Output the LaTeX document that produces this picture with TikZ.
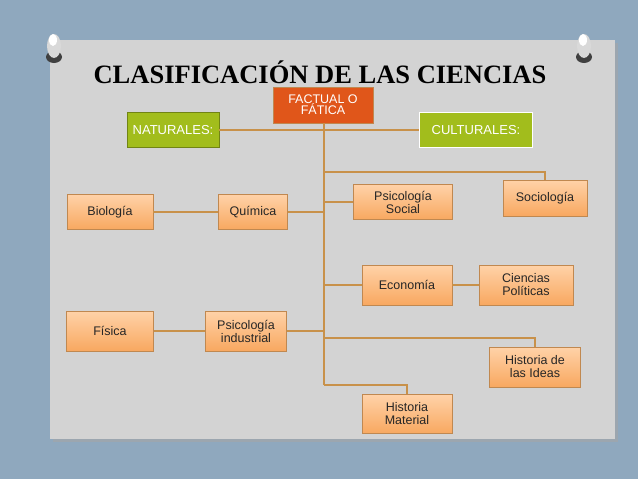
\documentclass[tikz,border=0pt]{standalone}
\usepackage{fontspec}
\setmainfont{Liberation Sans}
\newfontfamily\titlefont{Liberation Serif}
\begin{document}
\begin{tikzpicture}[x=1pt,y=-1pt,
  box/.style={draw=boxline,line width=0.8pt,top color=boxtop,bottom color=boxbot,font=\fontsize{12.5}{13}\selectfont,align=center,inner sep=0pt,text=black!85},
  green/.style={fill=grn,font=\fontsize{13}{14}\selectfont,text=white,inner sep=0pt},
  link/.style={draw=lnk,line width=1.2pt}]
\definecolor{bg}{HTML}{8FA8BE}
\definecolor{panel}{HTML}{D3D3D3}
\definecolor{boxline}{HTML}{C08850}
\definecolor{boxtop}{HTML}{FFD2A8}
\definecolor{boxbot}{HTML}{F8A860}
\definecolor{grn}{HTML}{A2BD1C}
\definecolor{lnk}{HTML}{C8914A}
\definecolor{fact}{HTML}{E0561A}
\fill[bg] (0,0) rectangle (638,479);
\useasboundingbox (0,0) rectangle (638,479);
\fill[black!35,opacity=0.6] (53,43) rectangle (618,442);
\fill[panel] (50,40) rectangle (615,439);
% pins
\foreach \px in {54,584}{
  \fill[gray!50!black] (\px,57) ellipse (8 and 6);
  \fill[gray!30] (\px,46) ellipse (7 and 12);
  \fill[white] (\px-1,40) ellipse (4 and 6);
}
\node (title) at (320,72) {\titlefont\bfseries\fontsize{26.5}{28}\selectfont CLASIFICACIÓN DE LAS CIENCIAS};
\node[draw=boxline,fill=fact,minimum width=100,minimum height=36,text=white,font=\fontsize{12.5}{12}\selectfont,align=center,inner sep=0pt] (fact) at (323,105) {FACTUAL O\\[-1pt]FÁTICA};
\node[green,draw=grn!70!black,minimum width=92,minimum height=35] (nat) at (173,130) {NATURALES:};
\node[green,draw=white,line width=0.8pt,minimum width=113,minimum height=35] (cul) at (476,130) {CULTURALES:};
\node[box,minimum width=86,minimum height=35] (bio) at (110,212) {Biología};
\node[box,minimum width=69,minimum height=35] (qui) at (253,212) {Química};
\node[box,minimum width=99,minimum height=35] (psoc) at (403,202) {Psicología\\Social};
\node[box,minimum width=84,minimum height=36] (soc) at (545,198) {Sociología};
\node[box,minimum width=90,minimum height=40] (eco) at (407,285) {Economía};
\node[box,minimum width=94,minimum height=40] (cp) at (526,285) {Ciencias\\Políticas};
\node[box,minimum width=87,minimum height=40] (fis) at (110,331) {Física};
\node[box,minimum width=81,minimum height=40] (pind) at (246,331) {Psicología\\industrial};
\node[box,minimum width=91,minimum height=40] (hid) at (535,367) {Historia de\\las Ideas};
\node[box,minimum width=90,minimum height=39] (hmat) at (407,414) {Historia\\Material};
\coordinate (tend) at (324,385);
\draw[link] (fact.south -| tend) -- (tend);
\draw[link] (nat.east) -- (cul.west);
\draw[link] (bio) -- (qui);
\draw[link] (qui.east) -- (qui.east -| tend);
\draw[link] (psoc.west -| tend) -- (psoc.west);
\draw[link] (324,172) -| (soc.north);
\draw[link] (eco.west -| tend) -- (eco.west);
\draw[link] (eco) -- (cp);
\draw[link] (fis) -- (pind);
\draw[link] (pind.east) -- (pind.east -| tend);
\draw[link] (324,338) -| (hid.north);
\draw[link] (tend) -| (hmat.north);
\end{tikzpicture}
\end{document}
